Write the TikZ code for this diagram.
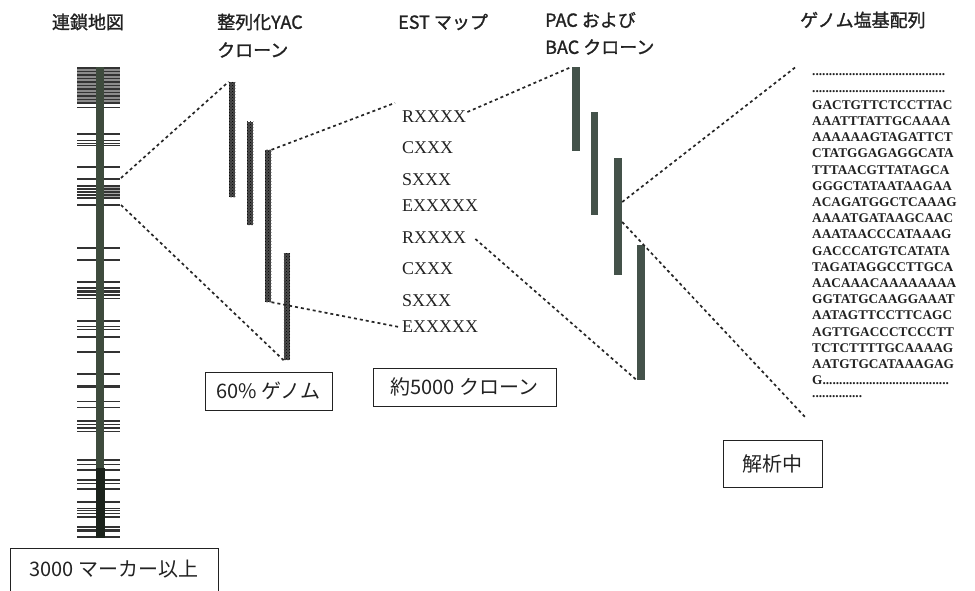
\documentclass[tikz,border=0pt]{standalone}
\usepackage{fontspec}
\setmainfont{Liberation Serif}
\newfontfamily\jp{Noto Sans CJK JP}
\newfontfamily\jpb[FakeBold=1.3]{Noto Sans CJK JP}
\usetikzlibrary{patterns}
\definecolor{mapgreen}{HTML}{3E4B3D}
\definecolor{mapdark}{HTML}{1C231C}
\definecolor{pacgreen}{HTML}{44524A}
\definecolor{ink}{HTML}{222222}
\begin{document}
\begin{tikzpicture}[x=1pt,y=-1pt,
  dline/.style={draw=black!85, line width=1.7pt, dash pattern=on 3pt off 3pt},
  ttl/.style={font=\jpb\fontsize{18}{21}\selectfont, text=ink, inner sep=0},
  boxlabel/.style={draw=ink, line width=0.9pt, font=\jp\fontsize{20}{22}\selectfont, text=ink, inner sep=0},
  est/.style={font=\fontsize{18}{20}\selectfont, anchor=west, inner sep=0, text=ink},
  seq/.style={font=\bfseries\fontsize{13.3}{15}\selectfont, anchor=west, inner sep=0, text=ink},
  yacbar/.style={fill=black!70, postaction={pattern=crosshatch dots, pattern color=black}, minimum width=6.5pt, inner sep=0},
  pacbar/.style={fill=pacgreen, minimum width=8pt, inner sep=0},
  band/.style={draw=black!80},
]
\useasboundingbox (0,0) rectangle (975,591);

% titles
\node[ttl] (t1) at (88,22) {連鎖地図};
\node[ttl, anchor=west] (t2a) at (217,22) {整列化YAC};
\node[ttl, anchor=west] (t2b) at (217,50) {クローン};
\node[ttl, anchor=west] (t3) at (398,22) {EST マップ};
\node[ttl, anchor=west] (t4a) at (545,20) {PAC および};
\node[ttl, anchor=west] (t4b) at (545,47) {BAC クローン};
\node[ttl, anchor=west] (t5) at (800,20) {ゲノム塩基配列};

% linkage map
\fill[black!45] (77,69) rectangle (120,104);
\fill[black!35] (104,187) rectangle (120,199);
\foreach \y/\w in {68/2,71.5/1.5,75/2,78.5/1.2,82/2.2,85.5/1.5,89/2,92.5/1.5,96/2,99.5/1.5,103/2.5,108/1,
  134/1.5,141/1,143.5/1.5,146/1,167/1.2,179/2,186/1.2,189/1.5,192/1.2,195/1.5,198/1.2,205/1.2,
  248/1.5,260/1.2,282/1.5,288/2,291.5/2.5,295/2,298/1,
  321/1.2,326.5/1.5,329.5/1.5,337/1.2,352/1.2,374/1.8,386/3,401/1,407/1,
  421/1.2,424.5/1,428/1.2,431/1,460/1.2,464/1,470/1.2,480/1.5,483/1,489/1.2,
  502/1.2,508/1,510.5/1.5,513/1,517/1.2,527/1.2,530.5/3,537/1.2}
  \draw[band, line width=\w pt] (77,\y) -- (120,\y);
\node[fill=mapgreen, minimum width=7.5pt, minimum height=401pt, inner sep=0] (map) at (100,267.5) {};
\fill[mapdark] (96,468) rectangle (105,538);
\coordinate (m1) at (121,178);
\coordinate (m2) at (121,205);

% YAC clones
\node[yacbar, minimum height=115pt] (y1) at (232,139.5) {};
\node[yacbar, minimum height=103pt] (y2) at (250,173.5) {};
\node[yacbar, minimum height=152pt] (y3) at (268,226) {};
\node[yacbar, minimum height=107pt] (y4) at (287,306.5) {};

% EST list
\node[est] (r1) at (402,117) {RXXXX};
\node[est] (c1) at (402,148) {CXXX};
\node[est] (s1) at (402,180) {SXXX};
\node[est] (e1) at (402,206) {EXXXXX};
\node[est] (r2) at (402,238) {RXXXX};
\node[est] (c2) at (402,269) {CXXX};
\node[est] (s2) at (402,301) {SXXX};
\node[est] (e2) at (402,327) {EXXXXX};

% PAC / BAC clones
\node[pacbar, minimum height=84pt] (p1) at (576,109) {};
\node[pacbar, minimum width=7pt, minimum height=103pt] (p2) at (594.5,163.5) {};
\node[pacbar, minimum height=117pt] (p3) at (618,216.5) {};
\node[pacbar, minimum height=135pt] (p4) at (641,312.5) {};

% genome sequence
\node[seq] (d1) at (812,75) {........................................};
\node[seq] (d2) at (812,92) {........................................};
\foreach \t [count=\i] in {GACTGTTCTCCTTAC,AAATTTATTGCAAAA,AAAAAAGTAGATTCT,CTATGGAGAGGCATA,
  TTTAACGTTATAGCA,GGGCTATAATAAGAA,ACAGATGGCTCAAAG,AAAATGATAAGCAAC,AAATAACCCATAAAG,
  GACCCATGTCATATA,TAGATAGGCCTTGCA,AACAAACAAAAAAAA,GGTATGCAAGGAAAT,AATAGTTCCTTCAGC,
  AGTTGACCCTCCCTT,TCTCTTTTGCAAAAG,AATGTGCATAAAGAG}
  \node[seq] (q\i) at (812,{105+16.2*(\i-1)}) {\t};
\node[seq] (q18) at (812,{105+16.2*17}) {G......................................};
\node[seq] (q19) at (812,{105+16.2*18}) {...............};
\coordinate (g1) at (797,66);
\coordinate (g2) at (806,418);

% boxes
\node[boxlabel, minimum width=127pt, minimum height=38pt] (b60) at (268.5,391) {60\% ゲノム};
\node[boxlabel, minimum width=183pt, minimum height=38pt] (b5000) at (464.5,387) {約5000 クローン};
\node[boxlabel, minimum width=99pt, minimum height=47pt] (bkai) at (772.5,463.5) {解析中};
\node[boxlabel, minimum width=208pt, minimum height=43pt] (b3000) at (114,569.5) {3000 マーカー以上};

% dashed connectors
\draw[dline] (m1) -- (y1.north west);
\draw[dline] (m2) -- (y4.south west);
\draw[dline] (y3.north east) -- ([xshift=-7pt,yshift=8pt]r1.north west);
\draw[dline] (y3.south east) -- ([xshift=-3pt]e2.west);
\draw[dline] ([xshift=1pt,yshift=5pt]r1.east) -- (p1.north west);
\draw[dline] ([xshift=9pt,yshift=-1pt]r2.east) -- (p4.south west);
\draw[dline] ([yshift=14.5pt]p3.east) -- (g1);
\draw[dline] ([yshift=-5.5pt]p3.east) -- (g2);
\end{tikzpicture}
\end{document}
